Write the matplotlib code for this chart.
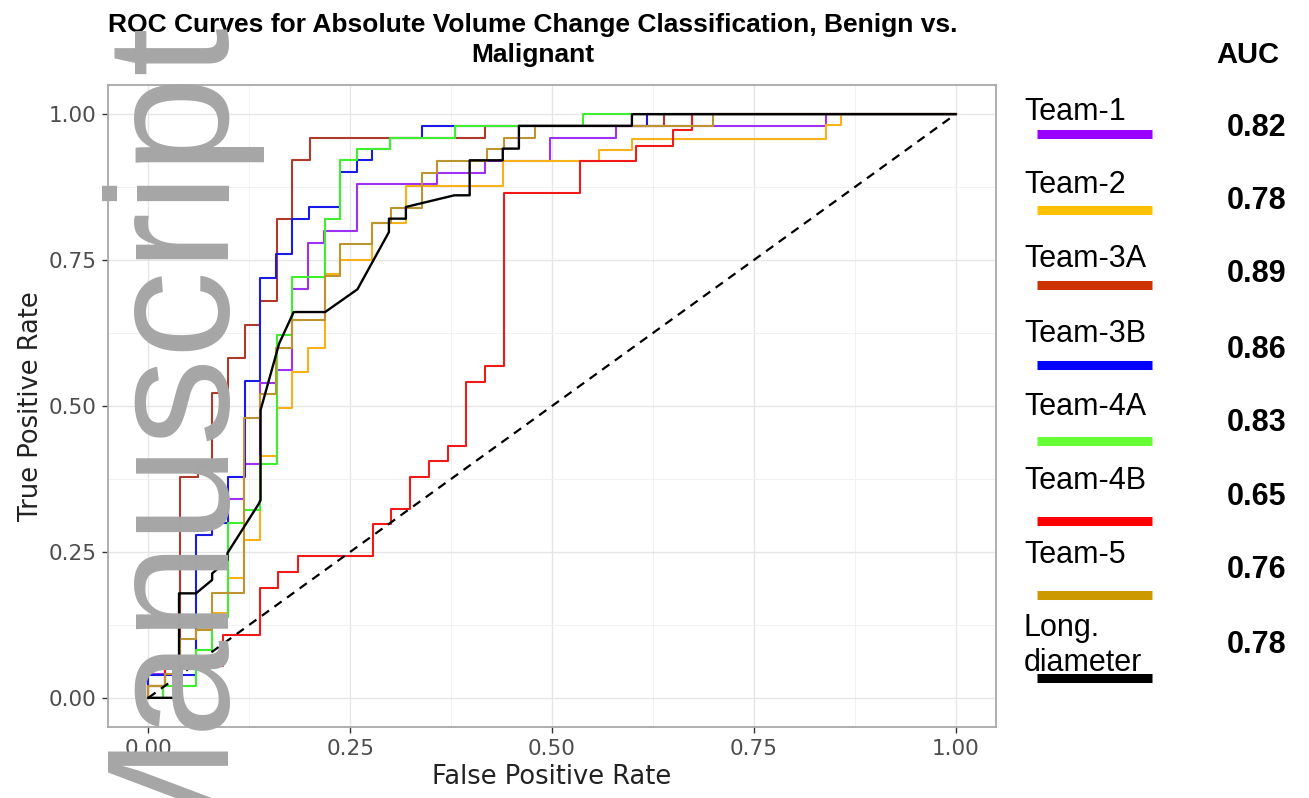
import matplotlib.pyplot as plt
from matplotlib.lines import Line2D
import numpy as np

W, H = 1309, 798

# ROC step curves: (fpr, tpr) where the curve jumps up to tpr
teams = ["Team-1", "Team-2", "Team-3A", "Team-3B", "Team-4A", "Team-4B", "Team-5"]
auc_values = [0.82, 0.78, 0.89, 0.86, 0.83, 0.65, 0.76, 0.78]

fpr_team1 = [0, 0, 0.02, 0.039, 0.099, 0.119, 0.138, 0.159, 0.178, 0.198, 0.217, 0.259, 0.358, 0.417, 0.497, 0.579, 0.839, 1.0]
tpr_team1 = [0, 0.04, 0.06, 0.24, 0.34, 0.40, 0.54, 0.562, 0.70, 0.78, 0.80, 0.88, 0.90, 0.92, 0.96, 0.98, 1.0, 1.0]

fpr_team2 = [0, 0, 0.04, 0.059, 0.079, 0.099, 0.119, 0.138, 0.159, 0.178, 0.198, 0.219, 0.238, 0.277, 0.319, 0.439, 0.558, 0.599, 0.839, 0.858, 1.0]
tpr_team2 = [0, 0.02, 0.06, 0.12, 0.145, 0.206, 0.271, 0.415, 0.497, 0.558, 0.60, 0.727, 0.75, 0.813, 0.877, 0.92, 0.938, 0.957, 0.981, 1.0, 1.0]

fpr_team3a = [0, 0, 0.02, 0.039, 0.061, 0.079, 0.099, 0.12, 0.138, 0.159, 0.178, 0.2, 0.417, 0.639, 1.0]
tpr_team3a = [0, 0.02, 0.06, 0.379, 0.399, 0.522, 0.582, 0.639, 0.68, 0.82, 0.921, 0.96, 0.98, 1.0, 1.0]

fpr_team3b = [0, 0, 0.059, 0.079, 0.099, 0.12, 0.138, 0.158, 0.178, 0.199, 0.238, 0.259, 0.277, 0.299, 0.339, 0.618, 1.0]
tpr_team3b = [0, 0.039, 0.279, 0.299, 0.379, 0.542, 0.72, 0.761, 0.821, 0.841, 0.901, 0.921, 0.941, 0.96, 0.98, 1.0, 1.0]

fpr_team4a = [0, 0.018, 0.059, 0.079, 0.099, 0.119, 0.138, 0.159, 0.178, 0.219, 0.238, 0.259, 0.299, 0.38, 0.539, 1.0]
tpr_team4a = [0, 0.02, 0.082, 0.139, 0.299, 0.322, 0.40, 0.622, 0.721, 0.821, 0.921, 0.94, 0.96, 0.98, 1.0, 1.0]

fpr_team4b = [0, 0, 0.021, 0.092, 0.138, 0.161, 0.185, 0.278, 0.301, 0.324, 0.348, 0.371, 0.394, 0.417, 0.441, 0.535, 0.604, 0.650, 0.673, 1.0]
tpr_team4b = [0, 0.02, 0.054, 0.108, 0.189, 0.216, 0.243, 0.297, 0.324, 0.378, 0.405, 0.432, 0.541, 0.568, 0.865, 0.919, 0.946, 0.973, 1.0, 1.0]

fpr_team5 = [0, 0, 0.02, 0.039, 0.059, 0.079, 0.119, 0.138, 0.158, 0.178, 0.219, 0.238, 0.277, 0.30, 0.339, 0.358, 0.42, 0.441, 0.479, 0.699, 1.0]
tpr_team5 = [0, 0.02, 0.04, 0.10, 0.116, 0.179, 0.48, 0.52, 0.60, 0.647, 0.722, 0.778, 0.813, 0.84, 0.90, 0.92, 0.94, 0.96, 0.98, 1.0, 1.0]

# longest diameter curve (drawn as a path, has tied values)
fpr_long = [0, 0.038, 0.038, 0.059, 0.079, 0.079, 0.098, 0.098, 0.137, 0.139, 0.139, 0.162, 0.18, 0.219, 0.259, 0.298, 0.298, 0.319, 0.319, 0.379, 0.398, 0.398, 0.439, 0.439, 0.459, 0.459, 0.599, 0.599, 1.0]
tpr_long = [0, 0, 0.179, 0.179, 0.202, 0.213, 0.236, 0.248, 0.333, 0.339, 0.493, 0.607, 0.661, 0.661, 0.70, 0.798, 0.821, 0.821, 0.841, 0.861, 0.861, 0.921, 0.921, 0.941, 0.941, 0.98, 0.98, 1.0, 1.0]

curves = [
    (fpr_team1, tpr_team1), (fpr_team2, tpr_team2), (fpr_team3a, tpr_team3a),
    (fpr_team3b, tpr_team3b), (fpr_team4a, tpr_team4a), (fpr_team4b, tpr_team4b),
    (fpr_team5, tpr_team5),
]
line_colors = ["#9F30F5", "#F7B21A", "#AE3A2C", "#1A1AE6", "#40EE30", "#F01A1A", "#BC9430"]
key_colors = ["#9900FF", "#FFC000", "#CC3300", "#0000FF", "#66FF33", "#FF0000", "#CC9900", "#000000"]

fig = plt.figure(figsize=(W / 100, H / 100), dpi=100)
ax = fig.add_axes([108 / W, 1 - 727 / H, 888 / W, 642 / H])

for (fpr, tpr), color in zip(curves, line_colors):
    ax.step(fpr, tpr, where="post", color=color, linewidth=1.5)
ax.plot(fpr_long, tpr_long, color="black", linewidth=1.7)
ax.plot([0, 1], [0, 1], color="black", linestyle=(0, (4, 3)), linewidth=1.6)

ax.set_xlim(-0.05, 1.05)
ax.set_ylim(-0.05, 1.05)
major = [0, 0.25, 0.5, 0.75, 1.0]
ax.set_xticks(major)
ax.set_yticks(major)
ax.set_xticks([0.125, 0.375, 0.625, 0.875], minor=True)
ax.set_yticks([0.125, 0.375, 0.625, 0.875], minor=True)
ax.set_xticklabels([f"{v:.2f}" for v in major])
ax.set_yticklabels([f"{v:.2f}" for v in major])
ax.grid(which="major", color="#E6E6E6", linewidth=1.0)
ax.grid(which="minor", color="#F1F1F1", linewidth=0.7)
ax.set_axisbelow(True)
ax.tick_params(which="major", length=4.5, width=1.0, color="#333333",
               labelsize=15.5, labelcolor="#4D4D4D", pad=4)
ax.tick_params(which="minor", length=0)
for spine in ax.spines.values():
    spine.set_color("#A8A8A8")
    spine.set_linewidth(1.3)
ax.set_xlabel("False Positive Rate", fontsize=18.5, color="#222222", labelpad=4)
ax.set_ylabel("True Positive Rate", fontsize=18.5, color="#222222", labelpad=3)

# title
title_font = dict(family="Liberation Sans", weight="bold", fontsize=19, ha="center", va="baseline")
fig.text(533 / W, 1 - 32 / H, "ROC Curves for Absolute Volume Change Classification, Benign vs.", **title_font)
fig.text(533 / W, 1 - 62 / H, "Malignant", **title_font)

# custom key on the right
fig.text(1248 / W, 1 - 63 / H, "AUC", family="Liberation Sans", weight="bold",
         fontsize=21, ha="center", va="baseline")
label_base = [120, 193, 267, 342, 415, 489, 563, 636]
bar_y = [134, 210, 284.5, 365, 441, 520.5, 595, 678]
value_base = [136, 209, 282, 358, 431, 505, 578, 653]
for i, color in enumerate(key_colors):
    if i < len(teams):
        fig.text(1024 / W, 1 - label_base[i] / H, teams[i], family="Liberation Sans",
                 fontsize=22, ha="left", va="baseline")
    else:
        fig.text(1024 / W, 1 - label_base[i] / H, "Long.", family="Liberation Sans",
                 fontsize=22, ha="left", va="baseline")
        fig.text(1024 / W, 1 - 671 / H, "diameter", family="Liberation Sans",
                 fontsize=22, ha="left", va="baseline")
    fig.add_artist(Line2D([1037 / W, 1152 / W], [1 - bar_y[i] / H] * 2, color=color,
                          linewidth=6.5, solid_capstyle="butt", transform=fig.transFigure))
    fig.text(1257 / W, 1 - value_base[i] / H, f"{auc_values[i]:.2f}", family="Liberation Sans",
             weight="bold", fontsize=22, ha="center", va="baseline")

# watermark
fig.text(215 / W, 1 - 868 / H, "Manuscript", family="Liberation Sans", fontsize=126,
         color="#A6A6A6", rotation=90, rotation_mode="anchor", ha="left", va="baseline",
         zorder=10)

fig.savefig("out.png", dpi=100)
